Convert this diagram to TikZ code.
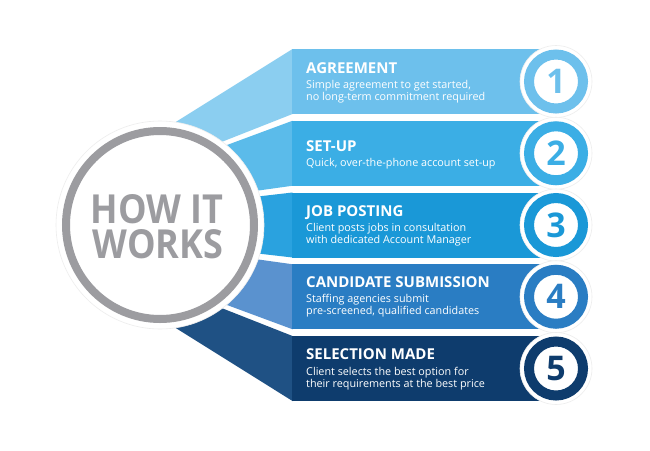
\documentclass[tikz,border=0pt]{standalone}
\usepackage{fontspec}
\setmainfont{Open Sans}
\usepackage{graphicx}
\definecolor{ra}{HTML}{6DC0EC}
\definecolor{ta}{HTML}{8BCEF0}
\definecolor{rb}{HTML}{3BAEE5}
\definecolor{tb}{HTML}{5BBBEA}
\definecolor{rc}{HTML}{1A98D7}
\definecolor{tc}{HTML}{2AA2DF}
\definecolor{rd}{HTML}{2A7DC3}
\definecolor{td}{HTML}{5A92CF}
\definecolor{re}{HTML}{0E3C6D}
\definecolor{te}{HTML}{1F5184}
\definecolor{ringgray}{HTML}{9C9CA0}
\tikzset{
  headtxt/.style={anchor=base west, inner sep=0pt, text=white, font=\fontsize{15}{16}\selectfont\bfseries},
  bodytxt/.style={anchor=base west, inner sep=0pt, text=white, font=\fontsize{10.8}{12}\selectfont},
  numtxt/.style={inner sep=0pt, font=\fontsize{34}{34}\selectfont\bfseries},
  bigtxt/.style={anchor=base, inner sep=0pt, text=ringgray, text height=28pt, text depth=0pt, font=\fontsize{40}{40}\selectfont\bfseries},
  halo/.style={fill=white, draw=black!7, line width=0.6pt}
}
\begin{document}
\begin{tikzpicture}[x=1pt,y=-1pt]
\useasboundingbox[fill=white] (0,0) rectangle (650,450);
\coordinate (F) at (11,225);
% bands
\foreach \i/\rcol/\tcol in {1/ra/ta,2/rb/tb,3/rc/tc,4/rd/td,5/re/te}{
  \pgfmathsetmacro\btop{49+71.75*(\i-1)}
  \pgfmathsetmacro\bbot{\btop+65}
  \begin{scope}
    \clip (160,0) rectangle (292.5,450);
    \fill[\tcol] (F) -- (292.5,\btop) -- (292.5,\bbot) -- cycle;
  \end{scope}
  \fill[\rcol] (292,\btop) rectangle (548,\bbot);
}
% central circle
\fill[halo] (160,225) circle (104pt);
\draw[ringgray, line width=8pt] (160,225) circle (94pt);
\node[bigtxt] (how1) at (157,223) {\scalebox{0.9}[1]{HOW IT}};
\node[bigtxt] (how2) at (158,258) {\scalebox{0.9}[1]{WORKS}};
% number circles
\foreach \i/\rcol in {1/ra,2/rb,3/rc,4/rd,5/re}{
  \pgfmathsetmacro\cy{81.5+71.75*(\i-1)}
  \fill[halo] (556,\cy) circle (36pt);
  \draw[\rcol, line width=10pt] (556,\cy) circle (27pt);
  \node[numtxt, text=\rcol] (n\i) at (556,\cy) {\i};
}
% texts
\node[headtxt] (h1) at (306,73) {AGREEMENT};
\node[bodytxt] (d1a) at (306,88) {Simple agreement to get started,};
\node[bodytxt] (d1b) at (306,100) {no long-term commitment required};
\node[headtxt] (h2) at (306,151.75) {SET-UP};
\node[bodytxt] (d2a) at (306,166.75) {Quick, over-the-phone account set-up};
\node[headtxt] (h3) at (306,216) {JOB POSTING};
\node[bodytxt] (d3a) at (306,231.5) {Client posts jobs in consultation};
\node[bodytxt] (d3b) at (306,243.5) {with dedicated Account Manager};
\node[headtxt] (h4) at (306,287.75) {CANDIDATE SUBMISSION};
\node[bodytxt] (d4a) at (306,302.25) {Staffing agencies submit};
\node[bodytxt] (d4b) at (306,314.75) {pre-screened, qualified candidates};
\node[headtxt] (h5) at (306,359.5) {SELECTION MADE};
\node[bodytxt] (d5a) at (306,375) {Client selects the best option for};
\node[bodytxt] (d5b) at (306,387) {their requirements at the best price};
\end{tikzpicture}
\end{document}
